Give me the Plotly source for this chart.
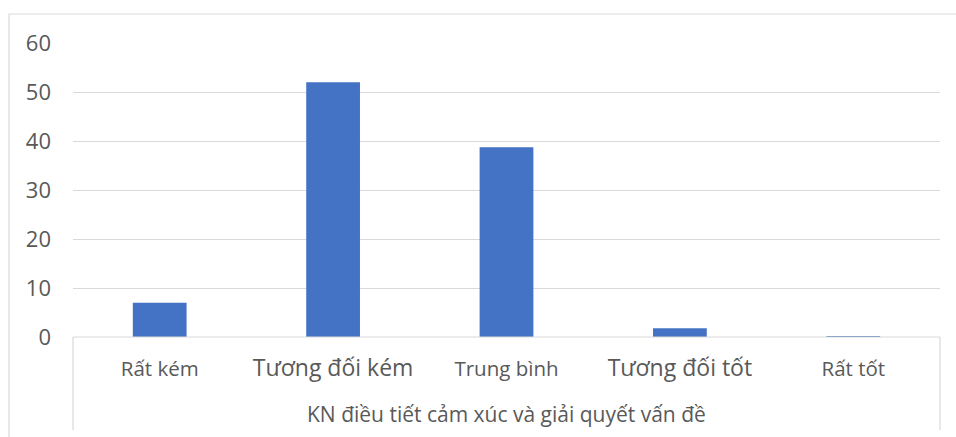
import plotly.graph_objects as go

# Skill levels and share of respondents (%)
categories = ["Rất kém", "Tương đối kém", "Trung bình", "Tương đối tốt", "Rất tốt"]
values = [7.0, 52.0, 38.7, 1.8, 0.2]
group_label = "KN điều tiết cảm xúc và giải quyết vấn đề"
y_ticks = [0, 10, 20, 30, 40, 50, 60]

FONT = "Open Sans"
TEXT = "#595959"
GRID = "#d9d9d9"
BAR = "#4472C4"

# Category labels alternate between a regular and a larger size
label_sizes = [20.5, 23, 20.5, 23, 20.5]
tick_text = [
    f'<span style="font-size:{s}px">{c}</span>' for c, s in zip(categories, label_sizes)
]

W, H = 956, 437
L, R, T, B = 73, 16, 43, 100
plot_w = W - L - R
plot_h = H - T - B

fig = go.Figure(
    go.Bar(
        x=categories,
        y=values,
        marker=dict(color=BAR, line=dict(width=0)),
        width=0.31,
        hoverinfo="x+y",
    )
)


def px_x(px):
    return (px - L) / plot_w


def px_y(py):
    return (H - B - py) / plot_h


shapes = [
    # outer chart frame
    dict(type="rect", xref="paper", yref="paper",
         x0=px_x(9), x1=px_x(W + 5), y0=px_y(14), y1=px_y(H + 5),
         line=dict(color=GRID, width=1.2), layer="below"),
    # category axis baseline
    dict(type="line", xref="paper", yref="paper",
         x0=0, x1=1, y0=0, y1=0, line=dict(color=GRID, width=1.2)),
    # group separators of the multi-level category axis
    dict(type="line", xref="paper", yref="paper",
         x0=0, x1=0, y0=0, y1=px_y(430), line=dict(color=GRID, width=1.2)),
    dict(type="line", xref="paper", yref="paper",
         x0=1, x1=1, y0=0, y1=px_y(430), line=dict(color=GRID, width=1.2)),
]

fig.update_layout(
    width=W,
    height=H,
    margin=dict(l=L, r=R, t=T, b=B),
    paper_bgcolor="white",
    plot_bgcolor="white",
    showlegend=False,
    font=dict(family=FONT, color=TEXT, size=20),
    shapes=shapes,
    annotations=[
        dict(text=group_label, xref="paper", yref="paper",
             x=0.5, y=px_y(414), xanchor="center", yanchor="middle",
             showarrow=False, font=dict(family=FONT, size=21, color=TEXT)),
    ],
    xaxis=dict(
        tickmode="array",
        tickvals=categories,
        ticktext=tick_text,
        showgrid=False,
        showline=False,
        zeroline=False,
        ticks="",
        ticklabelstandoff=17,
        tickfont=dict(family=FONT, color=TEXT, size=20.5),
        fixedrange=True,
    ),
    yaxis=dict(
        range=[0, 60],
        tickvals=y_ticks,
        showgrid=True,
        gridcolor=GRID,
        gridwidth=1.2,
        zeroline=False,
        showline=False,
        ticks="",
        ticklabelstandoff=21,
        tickfont=dict(family=FONT, color=TEXT, size=22),
        fixedrange=True,
    ),
    bargap=0.69,
)

fig.write_html("out.html")
